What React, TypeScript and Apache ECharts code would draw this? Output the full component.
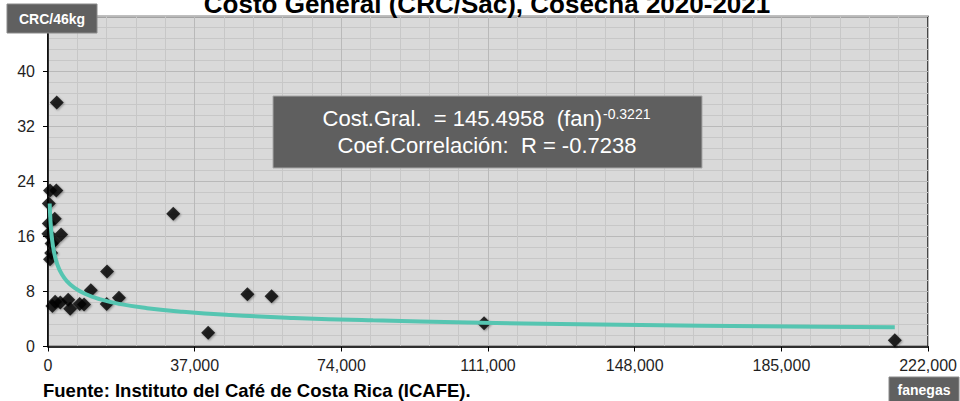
import React, { useEffect, useRef } from "react";
import * as echarts from "echarts";

const TITLE = "Costo General (CRC/Sac), Cosecha 2020-2021";
const SOURCE = "Fuente: Instituto del Café de Costa Rica (ICAFE).";
const Y_NAME = "CRC/46kg";
const X_NAME = "fanegas";

// Observed points: production (fanegas) and general cost (CRC/46kg)
const fanegas = [
  2200, 500, 2100, 200, 1700, 200, 3300, 100, 1500, 900, 800, 500,
  1100, 1800, 3100, 5100, 5600, 8000, 9100, 10800, 14900, 14800, 17900,
  31600, 40400, 50300, 56400, 110000, 213600,
];
const costo = [
  35.5, 22.7, 22.7, 20.8, 18.6, 17.9, 16.3, 16.4, 15.3, 15.0, 13.6, 12.7,
  5.9, 6.5, 6.4, 6.8, 5.5, 6.2, 6.1, 8.2, 10.9, 6.2, 7.1,
  19.3, 2.0, 7.6, 7.3, 3.4, 0.9,
];

// Power trend line shown on the chart: Cost = A * fan^B
const TREND_A = 145.4958;
const TREND_B = -0.3221;
const TREND_R = -0.7238;
const trendX = [
  420, 600, 850, 1200, 1700, 2400, 3400, 4800, 6700, 9300, 13000, 18000,
  25000, 34000, 46000, 62000, 82000, 106000, 134000, 165000, 195000, 213600,
];

const xTicks = [0, 37000, 74000, 111000, 148000, 185000, 222000];
const yTicks = [0, 8, 16, 24, 32, 40, 48];

const FONT = "'Liberation Sans', Arial, Helvetica, sans-serif";

export default function App() {
  const ref = useRef<HTMLDivElement>(null);

  useEffect(() => {
    if (!ref.current) return;
    const chart = echarts.init(ref.current, null, { renderer: "svg" });

    const scatterData = fanegas.map((x, i) => [x, costo[i]]);
    const trendData = trendX.map((x) => [x, TREND_A * Math.pow(x, TREND_B)]);

    const option: any = {
      animation: false,
      backgroundColor: "#ffffff",
      textStyle: { fontFamily: FONT },
      grid: {
        left: 48,
        right: 31,
        top: 16.5,
        bottom: 54.5,
        show: true,
        backgroundColor: "#d9d9d9",
        borderColor: "#000000",
        borderWidth: 1.5,
        containLabel: false,
      },
      xAxis: {
        type: "value",
        min: xTicks[0],
        max: xTicks[xTicks.length - 1],
        interval: xTicks[1] - xTicks[0],
        axisLine: { show: true, lineStyle: { color: "#000", width: 1.5 } },
        axisTick: { show: true, inside: false, length: 5, lineStyle: { color: "#000" } },
        axisLabel: {
          fontSize: 16,
          color: "#1f1f1f",
          fontFamily: FONT,
          margin: 11,
          formatter: (v: number) => v.toLocaleString("en-US"),
        },
        splitLine: { show: true, lineStyle: { color: "#b9b9b9", width: 1 } },
        minorTick: { show: false, splitNumber: 5 },
        minorSplitLine: { show: true, lineStyle: { color: "#c7c7c7", width: 1 } },
      },
      yAxis: {
        type: "value",
        min: yTicks[0],
        max: yTicks[yTicks.length - 1],
        interval: yTicks[1] - yTicks[0],
        axisLine: { show: true, lineStyle: { color: "#000", width: 1.5 } },
        axisTick: { show: true, inside: false, length: 5, lineStyle: { color: "#000" } },
        axisLabel: {
          fontSize: 16,
          color: "#1f1f1f",
          fontFamily: FONT,
          margin: 13,
          showMaxLabel: false,
        },
        splitLine: { show: true, lineStyle: { color: "#b9b9b9", width: 1 } },
        minorTick: { show: false, splitNumber: 5 },
        minorSplitLine: { show: true, lineStyle: { color: "#c7c7c7", width: 1 } },
      },
      series: [
        {
          type: "scatter",
          data: scatterData,
          symbol: "diamond",
          symbolSize: 14,
          itemStyle: {
            color: "#000000",
            shadowColor: "rgba(0,0,0,0.45)",
            shadowBlur: 2,
            shadowOffsetX: 1,
            shadowOffsetY: 1,
          },
          z: 2,
        },
        {
          type: "line",
          data: trendData,
          smooth: true,
          showSymbol: false,
          symbol: "none",
          lineStyle: { color: "#55c5b1", width: 4 },
          z: 3,
        },
      ],
      graphic: [
        {
          type: "text",
          x: 487,
          y: 4.3,
          style: {
            text: TITLE,
            fill: "#000",
            font: `bold 26px ${FONT}`,
            align: "center",
            verticalAlign: "middle",
          },
          z: 100,
        },
        {
          type: "rect",
          shape: { x: 7, y: 4, width: 90, height: 29 },
          style: { fill: "#606060", stroke: "#8a8a8a", lineWidth: 1 },
          z: 100,
        },
        {
          type: "text",
          x: 52,
          y: 18.5,
          style: {
            text: Y_NAME,
            fill: "#ffffff",
            font: `bold 14px ${FONT}`,
            align: "center",
            verticalAlign: "middle",
          },
          z: 101,
        },
        {
          type: "rect",
          shape: { x: 889, y: 377, width: 70, height: 26 },
          style: { fill: "#606060", stroke: "#8a8a8a", lineWidth: 1 },
          z: 100,
        },
        {
          type: "text",
          x: 924,
          y: 390,
          style: {
            text: X_NAME,
            fill: "#ffffff",
            font: `bold 14px ${FONT}`,
            align: "center",
            verticalAlign: "middle",
          },
          z: 101,
        },
        {
          type: "text",
          x: 43,
          y: 390.2,
          style: {
            text: SOURCE,
            fill: "#000",
            font: `bold 18.5px ${FONT}`,
            align: "left",
            verticalAlign: "middle",
          },
          z: 100,
        },
        {
          type: "rect",
          shape: { x: 273, y: 96, width: 429, height: 72 },
          style: { fill: "#5f5f5f", stroke: "#a8a8a8", lineWidth: 1 },
          z: 100,
        },
        {
          type: "text",
          x: 602,
          y: 118.1,
          style: {
            text: `Cost.Gral.  = ${TREND_A.toFixed(4)}  (fan)`,
            fill: "#ffffff",
            font: `22px ${FONT}`,
            align: "right",
            verticalAlign: "middle",
          },
          z: 101,
        },
        {
          type: "text",
          x: 603,
          y: 114.4,
          style: {
            text: TREND_B.toFixed(4),
            fill: "#ffffff",
            font: `14px ${FONT}`,
            align: "left",
            verticalAlign: "middle",
          },
          z: 101,
        },
        {
          type: "text",
          x: 487,
          y: 145.7,
          style: {
            text: `Coef.Correlación:  R = ${TREND_R.toFixed(4)}`,
            fill: "#ffffff",
            font: `22px ${FONT}`,
            align: "center",
            verticalAlign: "middle",
          },
          z: 101,
        },
      ],
    };

    chart.setOption(option);
    return () => chart.dispose();
  }, []);

  return <div ref={ref} style={{ width: 960, height: 401, position: "absolute", left: 0, top: 0 }} />;
}
